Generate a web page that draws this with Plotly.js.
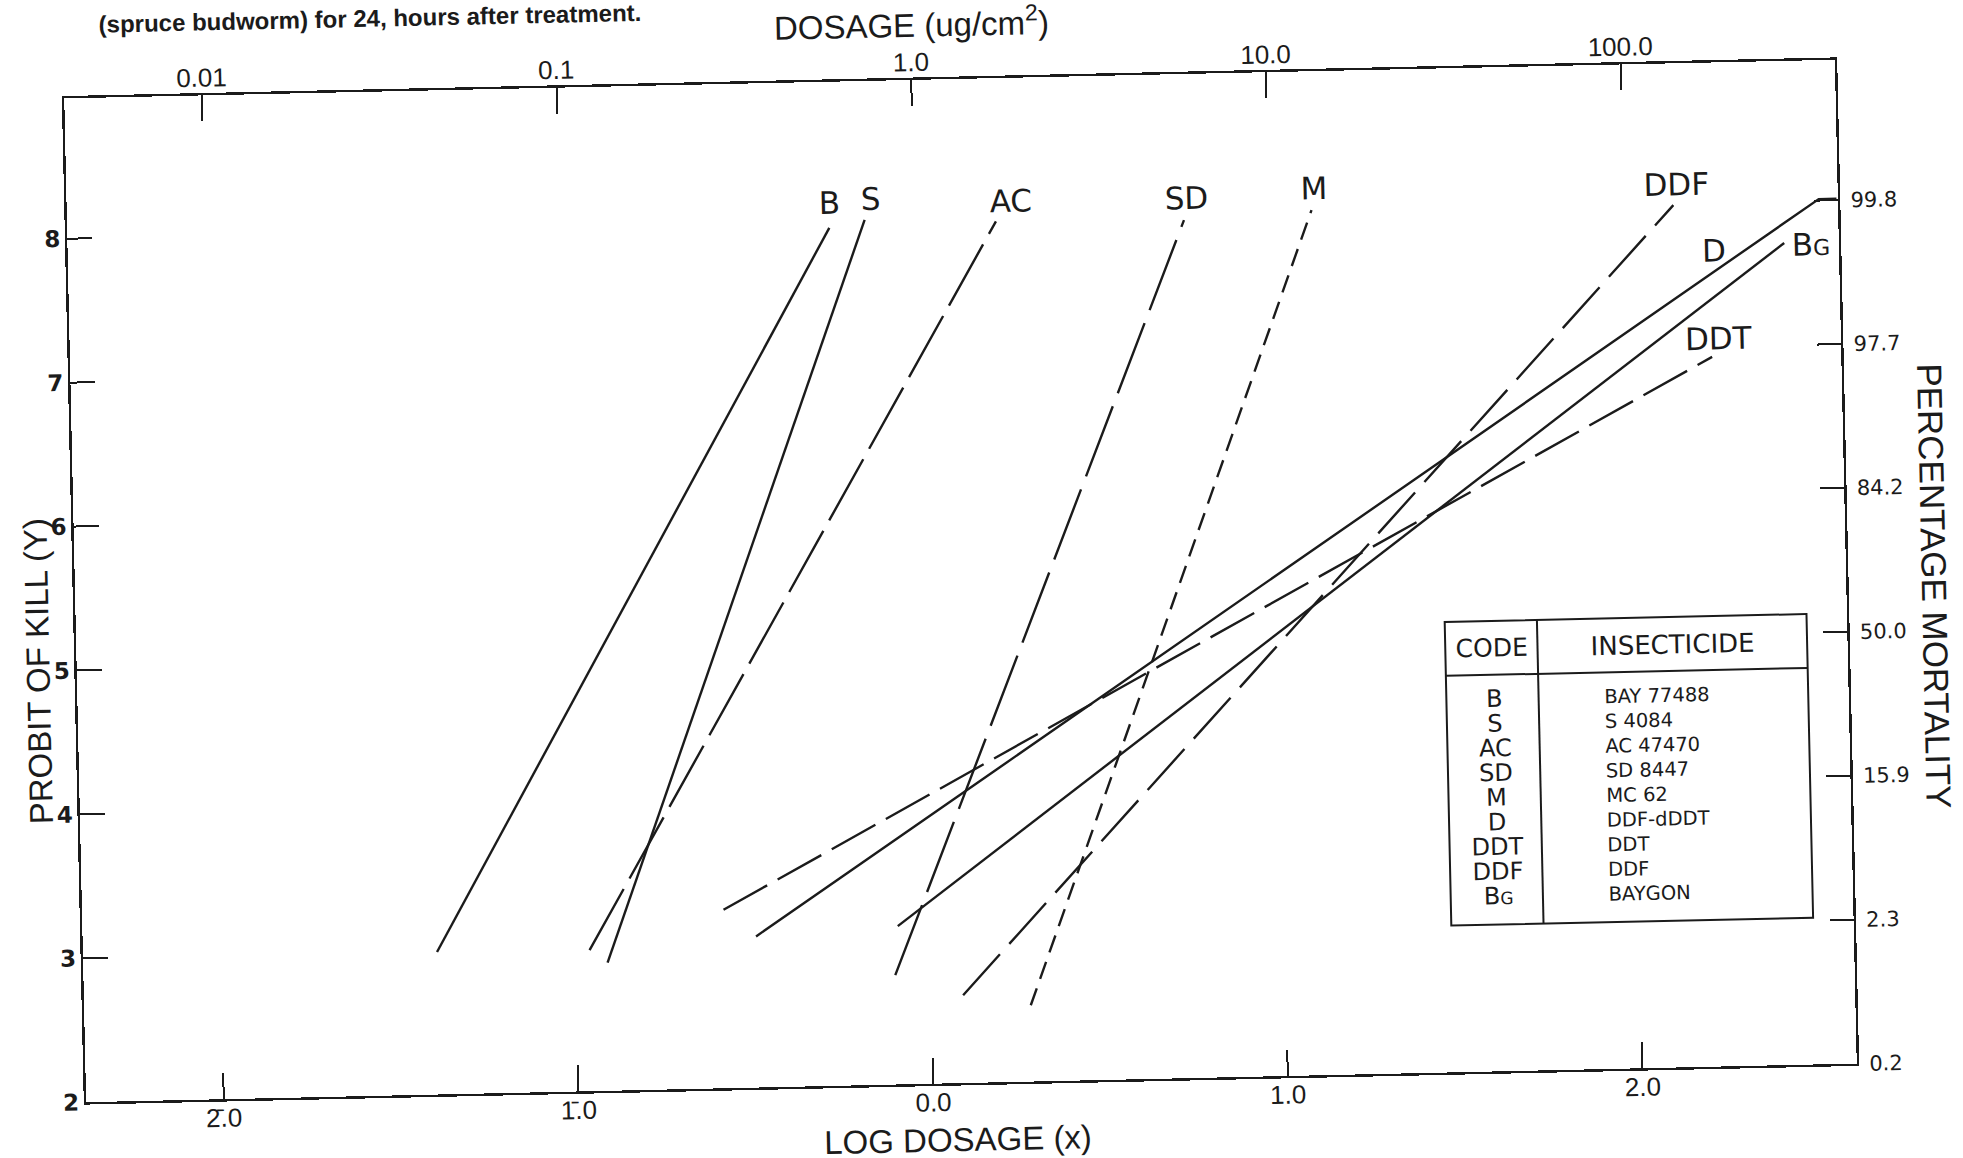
<!DOCTYPE html>
<html>
<head>
<meta charset="utf-8">
<script src="https://cdn.plot.ly/plotly-3.0.1.min.js"></script>
<style>
  html, body { margin: 0; padding: 0; background: #fff; overflow: hidden; width: 1963px; height: 1158px; }
  #chart {
    position: absolute; left: 0; top: -40px;
    width: 1963px; height: 1198px;
    transform-origin: 960.25px 621.25px;
    transform: rotate(-1.25deg);
  }
</style>
</head>
<body>
<div id="chart"></div>
<script>
// Probit regression lines: log dosage (x) against probit of kill (y)
const x_B   = [-1.39, -0.24];       const y_B   = [2.99, 7.96];
const x_S   = [-0.91, -0.14];       const y_S   = [2.89, 8.01];
const x_AC  = [-0.96, 0.23];        const y_AC  = [2.98, 7.98];
const x_SD  = [-0.10, 0.76];        const y_SD  = [2.76, 7.96];
const x_M   = [0.28, 1.12];         const y_M   = [2.53, 8.01];
const x_D   = [-0.49, 2.55, 2.60];  const y_D   = [3.05, 8.01, 8.01];
const x_DDT = [-0.58, 2.24];        const y_DDT = [3.24, 6.93];
const x_DDF = [0.09, 2.14];         const y_DDF = [2.61, 7.99];
const x_BG  = [-0.09, 2.45];        const y_BG  = [3.10, 7.71];

// Code / insecticide key
const codes = ["B", "S", "AC", "SD", "M", "D", "DDT", "DDF", "B<span style='font-size:17px'>G</span>"];
const insecticides = ["BAY 77488", "S 4084", "AC 47470", "SD 8447", "MC 62", "DDF-dDDT", "DDT", "DDF", "BAYGON"];

// Axis ticks
const logTicks = [-2, -1, 0, 1, 2];
const logTickText = ["2\u0304.0", "1\u0304.0", "0.0", "1.0", "2.0"];
const dosageTickText = ["0.01", "0.1", "1.0", "10.0", "100.0"];
const probitTicks = [2, 3, 4, 5, 6, 7, 8];
const probitTickText = ["2", "3", "4", "5", "6", "7", "8"];
const mortalityTickText = ["0.2", "2.3", "15.9", "50.0", "84.2", "97.7", "99.8"];

const INK = "#1b1b1b";
const GEO = "DejaVu Sans, Verdana, sans-serif";
const HELV = "Liberation Sans, Arial, sans-serif";

// line style and label placement for each series (label sits near the point given by `at`)
const series = [
  { label: "B",   x: x_B,   y: y_B,   dash: "solid",      at: 1, xs: 0,    ys: 25 },
  { label: "S",   x: x_S,   y: y_S,   dash: "solid",      at: 1, xs: 6,    ys: 21 },
  { label: "AC",  x: x_AC,  y: y_AC,  dash: "70px,12px",  at: 1, xs: 15,   ys: 20 },
  { label: "SD",  x: x_SD,  y: y_SD,  dash: "75px,14px",  at: 1, xs: 3,    ys: 22 },
  { label: "M",   x: x_M,   y: y_M,   dash: "18px,10px",  at: 1, xs: 3,    ys: 22 },
  { label: "D",   x: x_D,   y: y_D,   dash: "solid",      at: 1, xs: -106, ys: -49 },
  { label: "DDT", x: x_DDT, y: y_DDT, dash: "50px,12px",  at: 1, xs: 7,    ys: 18 },
  { label: "DDF", x: x_DDF, y: y_DDF, dash: "55px,14px",  at: 1, xs: 4,    ys: 21 },
  { label: "B<span style='font-size:22px'>G</span>", x: x_BG, y: y_BG, dash: "solid", at: 1, xs: 6, ys: -2, anchor: "left" }
];

const traces = series.map(s => ({
  type: "scatter", mode: "lines", x: s.x, y: s.y,
  line: { color: INK, width: 2.4, dash: s.dash },
  hoverinfo: "skip", showlegend: false
}));

// key table geometry (data coordinates of the boxed table)
const tbl = { x0: 1.47, x1: 2.49, xDiv: 1.73, y0: 3.02, y1: 5.13, yHead: 4.755,
              codeX: 1.605, nameX: 1.915, headY: 4.94, rowTop: 4.574, rowStep: 0.1715 };
const rowY = codes.map((_, i) => tbl.rowTop - i * tbl.rowStep);

traces.push({
  type: "scatter", mode: "text", x: codes.map(() => tbl.codeX), y: rowY,
  text: codes, textposition: "middle center",
  textfont: { family: GEO, size: 24, color: INK },
  hoverinfo: "skip", showlegend: false, cliponaxis: false
});
traces.push({
  type: "scatter", mode: "text", x: insecticides.map(() => tbl.nameX), y: rowY,
  text: insecticides, textposition: "middle right",
  textfont: { family: GEO, size: 19.5, color: INK },
  hoverinfo: "skip", showlegend: false, cliponaxis: false
});

const shapes = [
  { type: "rect", xref: "x", yref: "y", x0: tbl.x0, x1: tbl.x1, y0: tbl.y0, y1: tbl.y1,
    line: { color: INK, width: 2 }, fillcolor: "rgba(0,0,0,0)" },
  { type: "line", xref: "x", yref: "y", x0: tbl.x0, x1: tbl.x1, y0: tbl.yHead, y1: tbl.yHead,
    line: { color: INK, width: 2 } },
  { type: "line", xref: "x", yref: "y", x0: tbl.xDiv, x1: tbl.xDiv, y0: tbl.y0, y1: tbl.y1,
    line: { color: INK, width: 2 } }
];

const annotations = series.map(s => ({
  x: s.x[s.at], y: s.y[s.at], xref: "x", yref: "y",
  text: s.label, showarrow: false,
  xanchor: s.anchor || "center", yanchor: "middle",
  xshift: s.xs, yshift: s.ys,
  font: { family: GEO, size: 31, color: INK }
}));

annotations.push(
  { x: (tbl.x0 + tbl.xDiv) / 2, y: tbl.headY, xref: "x", yref: "y", xanchor: "center", text: "CODE", showarrow: false,
    font: { family: GEO, size: 25, color: INK } },
  { x: (tbl.xDiv + tbl.x1) / 2, y: tbl.headY, xref: "x", yref: "y", xanchor: "center", text: "INSECTICIDE", showarrow: false,
    font: { family: GEO, size: 26, color: INK } },
  // axis titles
  { x: 0.479, y: 1, xref: "paper", yref: "paper", xanchor: "center", yanchor: "middle", yshift: 57,
    text: "DOSAGE (ug/cm<sup>2</sup>)", showarrow: false, font: { family: HELV, size: 33, color: INK } },
  { x: 0.4917, y: 0, xref: "paper", yref: "paper", xanchor: "center", yanchor: "middle", yshift: -56,
    text: "LOG DOSAGE (x)", showarrow: false, font: { family: HELV, size: 33, color: INK } },
  { x: 0, y: 5.0, xref: "paper", yref: "y", xanchor: "center", xshift: -39, textangle: -90,
    text: "PROBIT OF KILL (Y)", showarrow: false, font: { family: HELV, size: 33, color: INK } },
  { x: 1, y: 5.31, xref: "paper", yref: "y", xanchor: "center", xshift: 88, textangle: 90,
    text: "PERCENTAGE MORTALITY", showarrow: false, font: { family: HELV, size: 35, color: INK } },
  // caption line
  { x: 0.1735, y: 1, xref: "paper", yref: "paper", xanchor: "center", yanchor: "middle", yshift: 74,
    text: "<b>(spruce budworm) for 24, hours after treatment.</b>", showarrow: false,
    font: { family: HELV, size: 24, color: INK } }
);

const xRange = [-2.388, 2.604];
const yRange = [2, 8.975];

const axisBase = { showgrid: false, zeroline: false, showline: true, linecolor: INK, linewidth: 2.4,
                   ticks: "inside", tickcolor: INK, tickwidth: 2, fixedrange: true };

const layout = {
  width: 1963, height: 1198,
  margin: { l: 75, r: 117, t: 119.25, b: 74.75 },
  paper_bgcolor: "#ffffff", plot_bgcolor: "#ffffff",
  showlegend: false, hovermode: false,
  xaxis: Object.assign({}, axisBase, {
    range: xRange, tickmode: "array", tickvals: logTicks, ticktext: logTickText, ticklen: 26,
    ticklabelstandoff: -6,
    tickfont: { family: HELV, size: 26, color: INK }
  }),
  xaxis2: Object.assign({}, axisBase, {
    overlaying: "x", side: "top", anchor: "y", range: xRange,
    tickmode: "array", tickvals: logTicks, ticktext: dosageTickText, ticklen: 26,
    ticklabelstandoff: -4,
    tickfont: { family: HELV, size: 26, color: INK }
  }),
  yaxis: Object.assign({}, axisBase, {
    range: yRange, tickmode: "array", tickvals: probitTicks, ticktext: probitTickText, ticklen: 25,
    tickfont: { family: "DejaVu Sans", size: 23, color: INK, weight: "bold" }
  }),
  yaxis2: Object.assign({}, axisBase, {
    overlaying: "y", side: "right", anchor: "x", range: yRange,
    tickmode: "array", tickvals: probitTicks, ticktext: mortalityTickText, ticklen: 24,
    ticklabelstandoff: 6,
    tickfont: { family: GEO, size: 21, color: INK }
  }),
  shapes: shapes,
  annotations: annotations
};

// an empty trace so the top and right axes get their own subplots
traces.push({ type: "scatter", mode: "lines", x: [], y: [], xaxis: "x2", yaxis: "y2",
              hoverinfo: "skip", showlegend: false });

Plotly.newPlot("chart", traces, layout, { displayModeBar: false, staticPlot: true });
</script>
</body>
</html>
